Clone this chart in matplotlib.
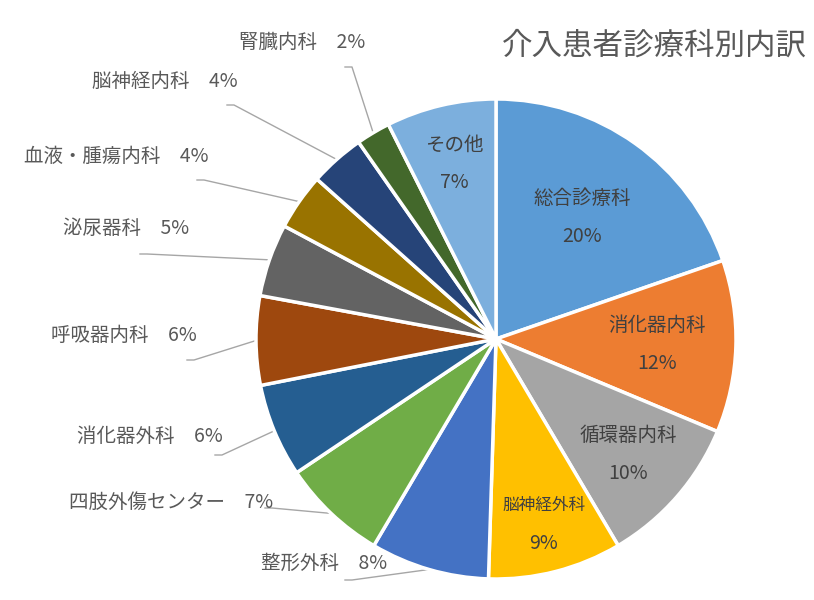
import numpy as np
import matplotlib.pyplot as plt

plt.rcParams['font.family'] = ['Noto Sans CJK JP', 'DejaVu Sans']

# Data
departments = ['総合診療科', '消化器内科', '循環器内科', '脳神経外科', '整形外科',
               '四肢外傷センター', '消化器外科', '呼吸器内科', '泌尿器科',
               '血液・腫瘍内科', '脳神経内科', '腎臓内科', 'その他']
shares = [19.7, 11.6, 10.2, 9.0, 8.0, 7.1, 6.3, 6.0, 4.9, 3.8, 3.7, 2.3, 7.4]
colors = ['#5B9BD5', '#ED7D31', '#A5A5A5', '#FFC000', '#4472C4', '#70AD47',
          '#255E91', '#9E480E', '#636363', '#997300', '#264478', '#43682B',
          '#7CAFDD']
title = '介入患者診療科別内訳'

# Layout (pixels, measured from top-left)
W, H = 814, 600
cx, cy, R = 496, 339, 240
inside = {0: 0.62, 1: 0.67, 2: 0.73, 3: 0.80, 12: 0.75}
inside_size = {3: 12}
outside = {  # index: (text right x, text y, leader start x, leader start y)
    4: (387, 563, 345, 580),
    5: (273, 502, 265, 508),
    6: (223, 437, 215, 455),
    7: (197, 335, 187, 360),
    8: (189, 229, 140, 254),
    9: (209, 156, 197, 180),
    10: (238, 81, 227, 105),
    11: (365, 42, 345, 67),
}
text_color = '#595959'

fig = plt.figure(figsize=(W / 100, H / 100), dpi=100)
ax = fig.add_axes([0, 0, 1, 1])
ax.axis('off')

wedges, _ = ax.pie(shares, colors=colors, startangle=90, counterclock=False,
                   center=(cx, H - cy), radius=R,
                   wedgeprops=dict(edgecolor='white', linewidth=2.5))
ax.set_xlim(0, W)
ax.set_ylim(0, H)
ax.set_aspect('equal')

total = sum(shares)
cum = np.cumsum([0] + shares)
for i, (name, val) in enumerate(zip(departments, shares)):
    mid = (cum[i] + val / 2) / total * 2 * np.pi  # clockwise from top
    dx, dy = np.sin(mid), np.cos(mid)
    pct = f'{val / total * 100:.0f}%'
    if i in inside:
        r = inside[i] * R
        x, y = cx + r * dx, (H - cy) + r * dy
        fs = inside_size.get(i, 14)
        ax.text(x, y + 19, name, ha='center', va='center', fontsize=fs,
                color='#404040')
        ax.text(x, y - 19, pct, ha='center', va='center', fontsize=14,
                color='#404040')
    else:
        tx, ty, lx, ly = outside[i]
        ax.text(tx, H - ty, f'{name}\u3000{pct}', ha='right', va='center',
                fontsize=14, color=text_color)
        end_x, end_y = cx + R * dx, (H - cy) + R * dy
        ax.plot([lx, lx + 7, end_x], [H - ly, H - ly, end_y], color='#A6A6A6',
                linewidth=1, zorder=0)

ax.text(654, H - 46, title, ha='center', va='center', fontsize=22,
        color=text_color)

fig.savefig('out.png', dpi=100)
